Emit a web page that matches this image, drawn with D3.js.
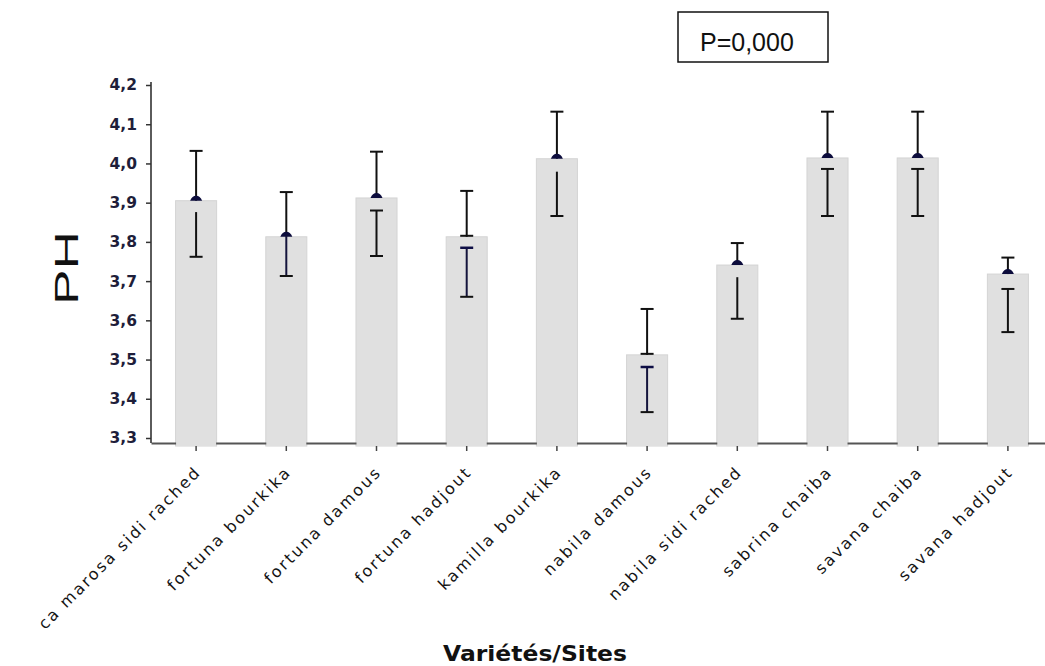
<!DOCTYPE html>
<html>
<head>
<meta charset="utf-8">
<script src="https://cdn.jsdelivr.net/npm/d3@7"></script>
<style>
  html, body { margin: 0; padding: 0; background: #fff; }
  svg { display: block; }
</style>
</head>
<body>
<svg id="chart" width="1045" height="666"></svg>
<script>
const categories = ["ca marosa sidi rached", "fortuna bourkika", "fortuna damous", "fortuna hadjout",
  "kamilla bourkika", "nabila damous", "nabila sidi  rached", "sabrina chaiba", "savana chaiba", "savana hadjout"];
const means    = [3.905, 3.813, 3.912, 3.813, 4.012, 3.512, 3.741, 4.014, 4.014, 3.718];
const upperVals = [4.032, 3.927, 4.030, 3.930, 4.132, 3.629, 3.797, 4.132, 4.132, 3.760];
const lowerTop = [3.876, 3.813, 3.880, 3.785, 3.979, 3.481, 3.710, 3.986, 3.986, 3.680];
const lowerVals = [3.762, 3.713, 3.764, 3.660, 3.866, 3.366, 3.604, 3.866, 3.866, 3.570];
const yTicks = [3.3, 3.4, 3.5, 3.6, 3.7, 3.8, 3.9, 4.0, 4.1, 4.2];
const pText = "P=0,000";
const yTitle = "PH";
const xTitle = "Variétés/Sites";

// style flags per bar
const lowerTopCap = [false, false, true, true, false, true, false, true, true, true];
const lowerNavy   = [false, true, false, true, false, true, false, false, false, false];
const meanCap     = [false, false, false, true, false, true, false, false, false, false];

const svg = d3.select("#chart");
const data = categories.map((c, i) => ({
  c, mean: means[i], up: upperVals[i], lt: lowerTop[i], lo: lowerVals[i],
  ltCap: lowerTopCap[i], navy: lowerNavy[i], mCap: meanCap[i]
}));

const y = d3.scaleLinear().domain([3.3, 4.2]).range([438, 85]);
const x = d3.scaleBand().domain(categories).range([151, 1053]).paddingInner(0.545).paddingOuter(0.2725);
const axisY = y(3.3) + 5;

const defs = svg.append("defs");
const f = defs.append("filter").attr("id", "halo").attr("x", "-200%").attr("y", "-50%").attr("width", "500%").attr("height", "200%");
f.append("feGaussianBlur").attr("stdDeviation", 1.6);

// bars
svg.append("g").selectAll("rect").data(data).join("rect")
  .attr("x", d => x(d.c))
  .attr("y", d => y(d.mean))
  .attr("width", x.bandwidth())
  .attr("height", d => axisY + 3 - y(d.mean))
  .attr("fill", "#e0e0e0")
  .attr("stroke", "#d4d4d4")
  .attr("stroke-width", 1);

// x axis
const xAxis = d3.axisBottom(x).tickSize(8).tickSizeOuter(0);
const gx = svg.append("g").attr("transform", `translate(0,${axisY})`).call(xAxis);
gx.select(".domain").attr("stroke", "#555").attr("stroke-width", 2);
gx.selectAll(".tick line").attr("stroke", "#444").attr("stroke-width", 1.5);
gx.selectAll(".tick text")
  .attr("x", 0).attr("y", 0).attr("dy", 0)
  .attr("transform", "translate(6,30) rotate(-45)")
  .attr("text-anchor", "end")
  .attr("font-family", "DejaVu Sans")
  .attr("font-size", 16)
  .attr("letter-spacing", 2.2)
  .attr("fill", "#141414");
// bars cover the axis line
svg.append("g").selectAll("rect").data(data).join("rect")
  .attr("x", d => x(d.c) + 0.5)
  .attr("y", axisY - 2)
  .attr("width", x.bandwidth() - 1)
  .attr("height", 5)
  .attr("fill", "#e0e0e0");

// y axis
const yAxis = d3.axisLeft(y).tickValues(yTicks).tickSize(5).tickPadding(9)
  .tickFormat(d => d3.format(".1f")(d).replace(".", ","));
const gy = svg.append("g").attr("transform", "translate(151,0)").call(yAxis);
gy.select(".domain").remove();
gy.append("line").attr("x1", 0).attr("x2", 0).attr("y1", y(4.2) - 3).attr("y2", axisY)
  .attr("stroke", "#333").attr("stroke-width", 1.6);
gy.selectAll(".tick line").attr("stroke", "#333").attr("stroke-width", 1.5);
gy.selectAll(".tick text")
  .attr("font-family", "DejaVu Sans")
  .attr("font-weight", "bold")
  .attr("font-size", 15.5)
  .attr("fill", "#1e1e3a");

// error bars
const cw = 13;
const eb = svg.append("g");
data.forEach(d => {
  const cx = x(d.c) + x.bandwidth() / 2;
  const g = eb.append("g");
  g.append("line").attr("x1", cx).attr("x2", cx).attr("y1", y(d.lt) - 2).attr("y2", y(d.lo) + 2)
    .attr("stroke", "#fff").attr("stroke-width", 7).attr("filter", "url(#halo)");
  g.append("line").attr("x1", cx - cw / 2 - 2).attr("x2", cx + cw / 2 + 2).attr("y1", y(d.lo)).attr("y2", y(d.lo))
    .attr("stroke", "#fff").attr("stroke-width", 6).attr("filter", "url(#halo)");
  if (d.ltCap) g.append("line").attr("x1", cx - cw / 2 - 2).attr("x2", cx + cw / 2 + 2).attr("y1", y(d.lt)).attr("y2", y(d.lt))
    .attr("stroke", "#fff").attr("stroke-width", 6).attr("filter", "url(#halo)");
  const lc = d.navy ? "#14143c" : "#111";
  g.append("line").attr("x1", cx).attr("x2", cx).attr("y1", y(d.lt)).attr("y2", y(d.lo))
    .attr("stroke", lc).attr("stroke-width", 2);
  g.append("line").attr("x1", cx - cw / 2).attr("x2", cx + cw / 2).attr("y1", y(d.lo)).attr("y2", y(d.lo))
    .attr("stroke", "#111").attr("stroke-width", 2);
  if (d.ltCap) g.append("line").attr("x1", cx - cw / 2).attr("x2", cx + cw / 2).attr("y1", y(d.lt)).attr("y2", y(d.lt))
    .attr("stroke", d.navy ? "#0d0d45" : "#111").attr("stroke-width", d.navy ? 2.5 : 2);
  g.append("line").attr("x1", cx).attr("x2", cx).attr("y1", y(d.mean)).attr("y2", y(d.up))
    .attr("stroke", "#111").attr("stroke-width", 2);
  g.append("line").attr("x1", cx - cw / 2).attr("x2", cx + cw / 2).attr("y1", y(d.up)).attr("y2", y(d.up))
    .attr("stroke", "#111").attr("stroke-width", 2);
  if (d.mCap) {
    g.append("line").attr("x1", cx - cw / 2).attr("x2", cx + cw / 2).attr("y1", y(d.mean) - 1).attr("y2", y(d.mean) - 1)
      .attr("stroke", "#111").attr("stroke-width", 2);
  } else {
    const my = y(d.mean);
    g.append("path")
      .attr("d", `M${cx - 6},${my} Q${cx - 4},${my - 5} ${cx},${my - 5} Q${cx + 4},${my - 5} ${cx + 6},${my} Z`)
      .attr("fill", "#0c0c3c");
  }
});

// y title
svg.append("text")
  .attr("transform", "translate(78,268) rotate(-90)")
  .attr("text-anchor", "middle")
  .attr("font-family", "Liberation Sans")
  .attr("font-size", 34)
  .attr("textLength", 74)
  .attr("lengthAdjust", "spacingAndGlyphs")
  .attr("fill", "#111")
  .text(yTitle);

// x title
svg.append("text")
  .attr("x", 535).attr("y", 661)
  .attr("text-anchor", "middle")
  .attr("font-family", "DejaVu Sans")
  .attr("font-weight", "bold")
  .attr("font-size", 22)
  .attr("textLength", 184)
  .attr("lengthAdjust", "spacingAndGlyphs")
  .attr("fill", "#111")
  .text(xTitle);

// P box
svg.append("rect").attr("x", 678).attr("y", 12).attr("width", 150).attr("height", 50)
  .attr("fill", "#fff").attr("stroke", "#111").attr("stroke-width", 1.5);
svg.append("text").attr("x", 700).attr("y", 51)
  .attr("font-family", "Liberation Sans")
  .attr("font-size", 25)
  .attr("fill", "#111")
  .text(pText);
</script>
</body>
</html>
